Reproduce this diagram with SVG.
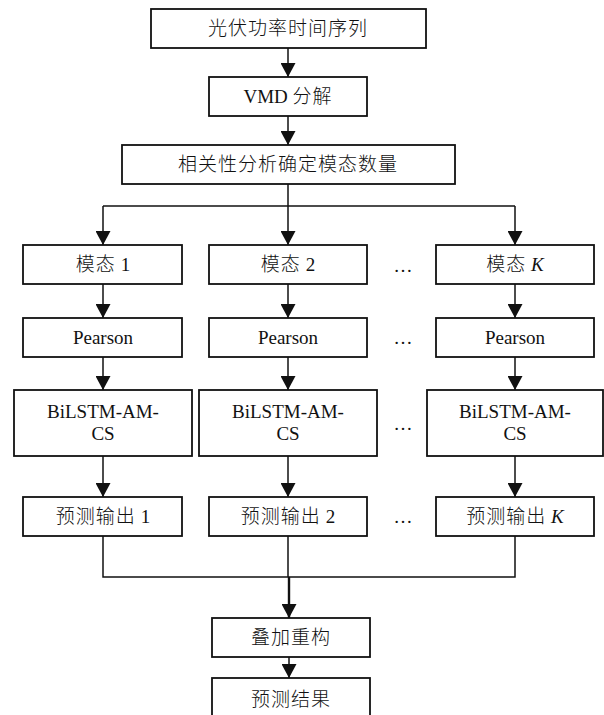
<svg xmlns="http://www.w3.org/2000/svg" width="604" height="715" viewBox="0 0 604 715">
<style>
.box{fill:#fff;stroke:#111;stroke-width:1.8}
.t{font-family:"Liberation Serif","Noto Sans CJK SC",serif;font-size:19px;fill:#111;text-anchor:middle}
.c{letter-spacing:1px;font-weight:300}
.ln{fill:none;stroke:#111;stroke-width:1.5}
.dots{font-family:"Liberation Serif",serif;font-size:19px;fill:#111;text-anchor:middle}
</style>
<defs>
<marker id="ah" markerUnits="userSpaceOnUse" markerWidth="14" markerHeight="15" refX="14" refY="7.5" orient="auto">
<path d="M0,0 L14,7.5 L0,15 z" fill="#111"/>
</marker>
</defs>
<rect width="604" height="715" fill="#fff"/>
<g id="connectors">
<line class="ln" x1="288" y1="48" x2="288" y2="77" marker-end="url(#ah)"/>
<line class="ln" x1="288" y1="116" x2="288" y2="145" marker-end="url(#ah)"/>
<polyline class="ln" points="288,184 288,206"/>
<polyline class="ln" points="103,206 515,206"/>
<line class="ln" x1="103" y1="206" x2="103" y2="245" marker-end="url(#ah)"/>
<line class="ln" x1="288" y1="206" x2="288" y2="245" marker-end="url(#ah)"/>
<line class="ln" x1="515" y1="206" x2="515" y2="245" marker-end="url(#ah)"/>
<line class="ln" x1="103" y1="284" x2="103" y2="318" marker-end="url(#ah)"/>
<line class="ln" x1="288" y1="284" x2="288" y2="318" marker-end="url(#ah)"/>
<line class="ln" x1="515" y1="284" x2="515" y2="318" marker-end="url(#ah)"/>
<line class="ln" x1="103" y1="357" x2="103" y2="390" marker-end="url(#ah)"/>
<line class="ln" x1="288" y1="357" x2="288" y2="390" marker-end="url(#ah)"/>
<line class="ln" x1="515" y1="357" x2="515" y2="390" marker-end="url(#ah)"/>
<line class="ln" x1="103" y1="456" x2="103" y2="497" marker-end="url(#ah)"/>
<line class="ln" x1="288" y1="456" x2="288" y2="497" marker-end="url(#ah)"/>
<line class="ln" x1="515" y1="456" x2="515" y2="497" marker-end="url(#ah)"/>
<polyline class="ln" points="103,536 103,577 515,577 515,536"/>
<line class="ln" x1="288" y1="536" x2="288" y2="577"/>
<line class="ln" style="stroke-width:2.4" x1="289" y1="577" x2="289" y2="618" marker-end="url(#ah)"/>
<line class="ln" x1="289" y1="657" x2="289" y2="678" marker-end="url(#ah)"/>
</g>
<g id="n_input"><rect class="box" x="151" y="9" width="275" height="39"/><text class="t c" x="288" y="35">光伏功率时间序列</text></g>
<g id="n_vmd"><rect class="box" x="209" y="77" width="158" height="39"/><text class="t" x="288" y="103">VMD <tspan class="c">分解</tspan></text></g>
<g id="n_corr"><rect class="box" x="122" y="145" width="333" height="39"/><text class="t c" x="288" y="171">相关性分析确定模态数量</text></g>
<g id="n_mode1"><rect class="box" x="23" y="245" width="159" height="39"/><text class="t" x="103" y="271"><tspan class="c">模态</tspan> 1</text></g>
<g id="n_mode2"><rect class="box" x="209" y="245" width="158" height="39"/><text class="t" x="288" y="271"><tspan class="c">模态</tspan> 2</text></g>
<g id="n_modeK"><rect class="box" x="436" y="245" width="158" height="39"/><text class="t" x="515" y="271"><tspan class="c">模态</tspan> <tspan font-style="italic">K</tspan></text></g>
<g id="n_p1"><rect class="box" x="23" y="318" width="159" height="39"/><text class="t" x="103" y="344">Pearson</text></g>
<g id="n_p2"><rect class="box" x="209" y="318" width="158" height="39"/><text class="t" x="288" y="344">Pearson</text></g>
<g id="n_pK"><rect class="box" x="436" y="318" width="158" height="39"/><text class="t" x="515" y="344">Pearson</text></g>
<g id="n_b1"><rect class="box" x="14" y="390" width="178" height="66"/><text class="t" x="103" y="418">BiLSTM-AM-</text><text class="t" x="103" y="440">CS</text></g>
<g id="n_b2"><rect class="box" x="199" y="390" width="178" height="66"/><text class="t" x="288" y="418">BiLSTM-AM-</text><text class="t" x="288" y="440">CS</text></g>
<g id="n_bK"><rect class="box" x="427" y="390" width="176" height="66"/><text class="t" x="515" y="418">BiLSTM-AM-</text><text class="t" x="515" y="440">CS</text></g>
<g id="n_o1"><rect class="box" x="23" y="497" width="159" height="39"/><text class="t" x="103" y="523"><tspan class="c">预测输出</tspan> 1</text></g>
<g id="n_o2"><rect class="box" x="209" y="497" width="158" height="39"/><text class="t" x="288" y="523"><tspan class="c">预测输出</tspan> 2</text></g>
<g id="n_oK"><rect class="box" x="436" y="497" width="158" height="39"/><text class="t" x="515" y="523"><tspan class="c">预测输出</tspan> <tspan font-style="italic">K</tspan></text></g>
<g id="n_sum"><rect class="box" x="212" y="618" width="158" height="39"/><text class="t c" x="291" y="644">叠加重构</text></g>
<g id="n_result"><rect class="box" x="212" y="678" width="158" height="45"/><text class="t c" x="291" y="706">预测结果</text></g>
<g id="ellipses">
<text class="dots" x="403" y="272">…</text>
<text class="dots" x="403" y="344">…</text>
<text class="dots" x="403" y="430">…</text>
<text class="dots" x="403" y="523">…</text>
</g>
</svg>
